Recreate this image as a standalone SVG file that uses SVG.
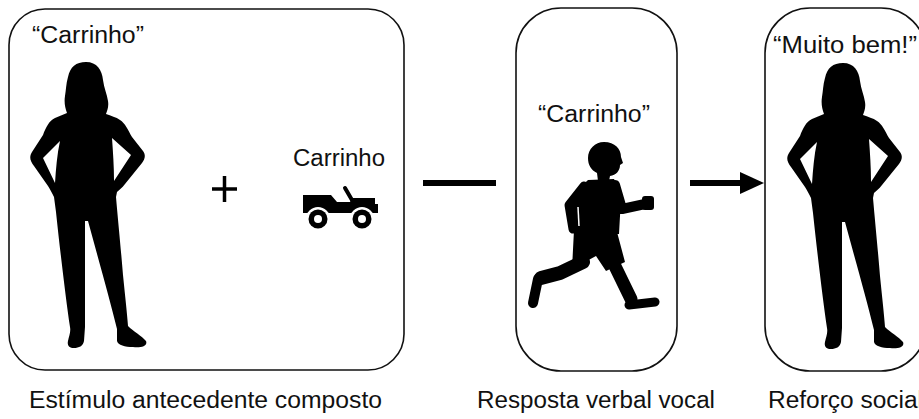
<svg xmlns="http://www.w3.org/2000/svg" xmlns:xlink="http://www.w3.org/1999/xlink" width="919" height="419" viewBox="0 0 919 419">
  <style>
    .frame { fill: #ffffff; stroke: #111111; stroke-width: 1.6; }
    .label { font-family: "Liberation Sans", Arial, Helvetica, sans-serif; font-size: 23.5px; fill: #111111; }
    .link { stroke: #000000; stroke-width: 6; fill: none; }
    .limb { stroke: #000000; fill: none; stroke-linecap: round; stroke-linejoin: round; }
  </style>
  <defs>
    <!-- standing woman, hands on hips -->
    <path id="woman" fill-rule="evenodd" fill="#000000" d="
      M 86 62 C 97 62 102 70 103 80 C 104 88 107 94 108 101 C 109 107 107 111 106 114
      C 111 116 116 117 120 120 C 125 123 128 130 132 137 L 143 151 C 146 155 145 159 142 163
      L 125 184 C 122 188 119 190 117 192 L 116 197
      C 118 220 121 250 123 275 C 125 295 127 312 128 326
      C 133 331 142 336 146 341 C 148 346 141 348 133 347 C 125 347 118 345 117 341 L 117 329
      C 110 300 98 258 88 221 L 85 221
      C 85 255 85 295 85 327 L 84 341 C 83 346 79 348 74 348 C 69 348 67 345 68 341
      C 69 336 71 332 70 327 C 66 300 60 250 56 212 L 54 197
      C 52 193 50 189 48 186 L 34 166 C 30 161 29 157 32 152 L 43 135
      C 46 127 49 121 55 118 C 59 116 63 115 67 113
      C 65 108 64 102 65 96 C 66 90 66 84 68 77 C 70 67 76 62 86 62 Z
      M 43 158 L 60 141 C 57 155 56 168 55 183 Z
      M 112 138 L 131 155 L 114 181 C 114 167 113 152 112 138 Z"/>
  </defs>

  <!-- connectors -->
  <g id="connectors">
    <line class="link" x1="423" y1="183" x2="496" y2="183"/>
    <line class="link" x1="690" y1="183" x2="744" y2="183"/>
    <polygon points="740,172 764,183 740,194" fill="#000000"/>
  </g>

  <!-- antecedent: spoken word plus object -->
  <g id="antecedente">
    <rect class="frame" x="9" y="9" width="395" height="361" rx="36" ry="36"/>
    <text class="label" x="32" y="43" textLength="112" lengthAdjust="spacingAndGlyphs">“Carrinho”</text>
    <use xlink:href="#woman"/>
    <!-- plus sign -->
    <g stroke="#000000" stroke-width="3.5">
      <line x1="212" y1="189" x2="237" y2="189"/>
      <line x1="224.5" y1="176" x2="224.5" y2="202"/>
    </g>
    <text class="label" x="293" y="166" textLength="92" lengthAdjust="spacingAndGlyphs">Carrinho</text>
    <!-- toy jeep -->
    <g id="car" fill="#000000">
      <path d="M303 195 L331 195 L337 202 L350 202 L352 198 L375 198 L375 204 L378 204 L378 213 L303 213 Z"/>
      <line x1="345" y1="188" x2="352" y2="200" stroke="#000000" stroke-width="4" stroke-linecap="round"/>
      <circle cx="318" cy="219" r="12" fill="#ffffff"/>
      <circle cx="362" cy="219" r="12" fill="#ffffff"/>
      <circle cx="318" cy="219" r="9.5"/>
      <circle cx="362" cy="219" r="9.5"/>
      <circle cx="318" cy="219" r="4" fill="#ffffff"/>
      <circle cx="362" cy="219" r="4" fill="#ffffff"/>
    </g>
    <text class="label" x="29" y="408" textLength="353" lengthAdjust="spacingAndGlyphs">Estímulo antecedente composto</text>
  </g>

  <!-- response: running child -->
  <g id="resposta">
    <rect class="frame" x="516" y="8" width="161" height="363" rx="45" ry="45"/>
    <text class="label" x="538" y="122" textLength="112" lengthAdjust="spacingAndGlyphs">“Carrinho”</text>
    <g id="boy" fill="#000000">
      <path d="M604 142 C615 142 621 149 621 157 L623 163 L620 165 C620 171 616 175 610 176 L609 181 L598 181 L597 173 C591 170 588 165 588 158 C588 149 595 142 604 142 Z"/>
      <path d="M588 180 L614 179 C618 186 620 192 621 198 L619 234 L575 236 C573 225 571 215 570 205 C574 195 581 186 588 180 Z"/>
      <path class="limb" stroke-width="9" d="M584 186 L569 205 L573 229"/>
      <path class="limb" stroke-width="10" d="M615 185 L622 209 L645 204"/>
      <rect x="642" y="196" width="12" height="14" rx="3"/>
      <path d="M574 230 L617 232 L625 262 L606 271 L596 256 L572 269 Z"/>
      <path class="limb" stroke-width="14" d="M583 262 L560 273 L541 278"/>
      <path class="limb" stroke-width="10" d="M538 279 L533 303"/>
      <path class="limb" stroke-width="13" d="M612 260 L631 299"/>
      <path class="limb" stroke-width="9" d="M629 305 L655 302"/>
      <line x1="578" y1="207" x2="579" y2="226" stroke="#ffffff" stroke-width="1.5"/>
    </g>
    <text class="label" x="477" y="408" textLength="238" lengthAdjust="spacingAndGlyphs">Resposta verbal vocal</text>
  </g>

  <!-- consequence: praise -->
  <g id="reforco">
    <rect class="frame" x="765" y="8" width="161" height="363" rx="45" ry="45"/>
    <use xlink:href="#woman" transform="translate(757,1)"/>
    <text class="label" x="773" y="53" textLength="144" lengthAdjust="spacingAndGlyphs">“Muito bem!”</text>
    <text class="label" x="768" y="408" textLength="155" lengthAdjust="spacingAndGlyphs">Reforço social</text>
  </g>
</svg>
